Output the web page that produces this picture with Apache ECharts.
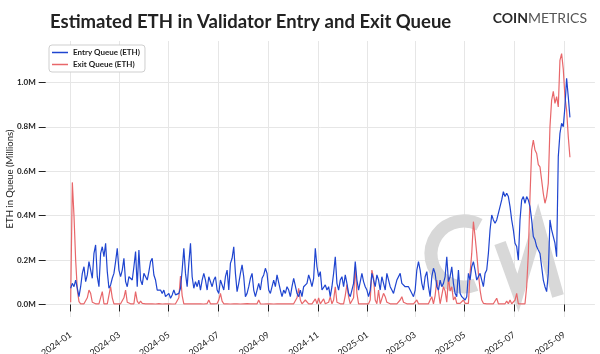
<!DOCTYPE html>
<html>
<head>
<meta charset="utf-8">
<script src="https://cdn.jsdelivr.net/npm/echarts@6/dist/echarts.min.js"></script>
<style>
  html, body { margin: 0; padding: 0; background: #fff; }
  #chart { width: 600px; height: 354px; }
</style>
</head>
<body>
<div id="chart"></div>
<script>
// values in millions of ETH, sampled about every 2 days from 2024-01-01 to 2025-09-08
const startDate = '2024-01-01';
const endDate = '2025-09-08';

const entryQueue = [
  0.073,0.095,0.080,0.110,0.073,0.035,0.080,0.140,0.170,0.103,
  0.133,0.193,0.193,0.118,0.230,0.268,0.125,0.080,0.230,0.260,
  0.215,0.276,0.148,0.073,0.088,0.118,0.140,0.193,0.253,0.155,
  0.125,0.155,0.208,0.103,0.080,0.125,0.133,0.110,0.170,0.238,
  0.080,0.245,0.110,0.088,0.140,0.148,0.110,0.148,0.193,0.208,
  0.133,0.110,0.065,0.073,0.065,0.050,0.065,0.035,0.028,0.050,
  0.028,0.043,0.065,0.043,0.035,0.050,0.073,0.155,0.253,0.140,
  0.080,0.185,0.276,0.125,0.073,
  0.103,0.080,0.110,0.065,0.110,0.140,0.110,0.065,0.125,0.133,
  0.080,0.110,0.125,0.065,0.050,0.110,0.118,0.065,0.125,0.155,
  0.065,0.185,0.208,0.260,0.140,0.058,0.095,0.140,0.178,0.125,
  0.035,0.050,0.080,0.118,0.140,0.065,0.035,0.065,0.095,0.065,
  0.118,0.133,0.163,0.140,0.065,0.050,0.080,0.110,0.080,0.133,
  0.125,0.065,0.035,0.065,0.050,0.080,0.065,0.035,0.080,0.118,
  0.110,0.050,0.035,0.065,0.035,0.080,0.080,0.095,0.133,0.110,
  0.080,0.118,0.253,0.170,0.125,0.148,0.065,
  0.065,0.088,0.065,0.080,0.035,0.080,0.140,0.215,0.095,0.065,
  0.110,0.125,0.080,0.133,0.095,0.050,0.035,0.065,0.095,0.193,
  0.110,0.065,0.065,0.140,0.103,0.080,0.065,0.035,0.065,0.140,
  0.148,0.080,0.133,0.110,0.065,0.125,0.095,0.065,0.140,0.148,
  0.080,0.065,0.050,0.080,0.110,0.103,0.140,0.095,0.088,0.080,
  0.073,0.080,0.065,0.058,0.035,0.065,0.155,0.193,0.155,0.095,
  0.065,0.125,0.148,0.080,0.035,0.125,0.163,0.140,0.080,0.065,
  0.110,0.080,0.095,0.125,0.215,0.103,0.125,0.170,0.095,
  0.050,0.035,0.155,0.050,0.035,0.043,0.020,0.035,0.140,0.110,
  0.170,0.193,0.155,0.110,0.110,0.140,0.110,0.080,0.140,0.155,
  0.230,0.336,0.403,0.381,0.366,0.381,0.373,0.441,0.471,0.508,
  0.486,0.501,0.486,0.441,0.381,0.336,0.276,0.261,0.200,0.381,
  0.471,0.486,0.456,0.486,0.471,0.441,0.381,0.306,0.291,0.261,
  0.245,0.230,0.170,0.110,0.080,0.058,0.140,0.381,0.336,0.306,
  0.276,0.215,0.666,0.771,0.816,0.801,0.891,1.019,0.936,0.843
];

const exitQueue = [
  0.010,0.550,0.400,0.200,0.065,0.013,0.003,0.003,0.003,0.010,
  0.030,0.065,0.050,0.010,0.003,0.003,0.003,0.003,0.003,0.058,
  0.003,0.003,0.003,0.010,0.080,0.030,0.003,0.003,0.003,0.003,
  0.003,0.010,0.030,0.065,0.010,0.003,0.003,0.003,0.003,0.058,
  0.015,0.003,0.015,0.005,0.012,0.003,0.004,0.003,0.002,0.003,
  0.003,0.002,0.003,0.004,0.003,0.002,0.003,0.003,0.002,0.003,
  0.003,0.002,0.004,0.003,0.003,0.030,0.128,0.040,0.003,0.003,
  0.003,0.002,0.003,0.004,0.003,
  0.003,0.003,0.004,0.003,0.003,0.002,0.003,0.004,0.020,0.003,
  0.003,0.003,0.003,0.004,0.020,0.050,0.015,0.003,0.003,0.003,
  0.003,0.002,0.003,0.003,0.004,0.003,0.003,0.002,0.003,0.003,
  0.003,0.004,0.003,0.003,0.002,0.003,0.003,0.003,0.020,0.003,
  0.003,0.002,0.003,0.003,0.004,0.003,0.003,0.002,0.003,0.003,
  0.003,0.003,0.004,0.003,0.002,0.003,0.003,0.003,0.004,0.003,
  0.003,0.030,0.073,0.020,0.003,0.003,0.020,0.015,0.003,0.003,
  0.003,0.003,0.025,0.003,0.030,0.003,0.010,
  0.025,0.003,0.003,0.010,0.035,0.003,0.020,0.080,0.010,0.003,
  0.003,0.003,0.003,0.040,0.090,0.035,0.003,0.003,0.030,0.170,
  0.050,0.003,0.003,0.003,0.003,0.003,0.003,0.003,0.020,0.155,
  0.120,0.020,0.003,0.065,0.003,0.003,0.050,0.035,0.010,0.003,
  0.003,0.003,0.003,0.003,0.003,0.003,0.020,0.035,0.010,0.003,
  0.003,0.003,0.003,0.003,0.003,0.003,0.020,0.003,0.003,0.003,
  0.003,0.003,0.003,0.003,0.020,0.035,0.003,0.040,0.110,0.060,
  0.003,0.010,0.080,0.060,0.010,0.125,0.060,0.080,0.020,
  0.035,0.005,0.005,0.005,0.013,0.020,0.005,0.005,0.005,0.140,
  0.230,0.373,0.306,0.230,0.140,0.065,0.020,0.005,0.003,0.003,
  0.003,0.003,0.003,0.003,0.003,0.028,0.003,0.003,0.003,0.003,
  0.003,0.015,0.003,0.020,0.003,0.003,0.020,0.050,0.003,0.003,
  0.003,0.003,0.003,0.080,0.230,0.486,0.696,0.740,0.696,0.680,
  0.630,0.620,0.560,0.500,0.456,0.486,0.546,0.800,0.920,0.960,
  0.906,0.936,0.890,1.100,1.130,1.060,0.936,0.876,0.756,0.663
];

const xTickLabels = ['2024-01', '2024-03', '2024-05', '2024-07', '2024-09', '2024-11',
  '2025-01', '2025-03', '2025-05', '2025-07', '2025-09'];
const yTickValues = [0, 0.2, 0.4, 0.6, 0.8, 1.0];

const t0 = Date.parse(startDate + 'T00:00:00Z');
const t1 = Date.parse(endDate + 'T00:00:00Z');
const step = (t1 - t0) / (entryQueue.length - 1);
const dates = entryQueue.map((_, i) => t0 + i * step);
const pad = (t1 - t0) * 0.05;
const xTicks = xTickLabels.map(s => Date.parse(s + '-01T00:00:00Z'));

function fmtMonth(v) {
  const d = new Date(v);
  return d.getUTCFullYear() + '-' + String(d.getUTCMonth() + 1).padStart(2, '0');
}

const chart = echarts.init(document.getElementById('chart'));
const font = 'Lato, "Open Sans", sans-serif';
chart.setOption({
  animation: false,
  backgroundColor: '#fff',
  textStyle: { fontFamily: font },
  title: [{
    text: 'Estimated ETH in Validator Entry and Exit Queue',
    left: 45,
    top: 8,
    textStyle: { fontSize: 18.5, fontWeight: 'bold', color: '#222', fontFamily: font }
  }, {
    text: '{a|COIN}{b|METRICS}',
    right: 8,
    top: 6,
    textStyle: {
      rich: {
        a: { fontSize: 14, fontWeight: 'bold', color: '#2a2a2a', fontFamily: font },
        b: { fontSize: 14, fontWeight: 'normal', color: '#555', fontFamily: font }
      }
    }
  }],
  legend: {
    orient: 'vertical',
    left: 49,
    top: 45,
    padding: [3, 5, 3, 3],
    icon: 'rect',
    itemWidth: 16,
    itemHeight: 1.5,
    itemGap: 3,
    borderColor: '#cfcfcf',
    borderWidth: 1,
    borderRadius: 3,
    backgroundColor: '#fff',
    textStyle: { fontSize: 8, fontWeight: 'bold', color: '#222', fontFamily: font, lineHeight: 9 }
  },
  grid: { left: 45.7, right: 5.1, top: 41, bottom: 37, outerBoundsMode: 'none' },
  graphic: [{
    type: 'arc',
    z: 1,
    silent: true,
    shape: { cx: 464, cy: 254, r: 33, startAngle: 1.2, endAngle: 5.2, clockwise: true },
    style: { stroke: '#d8d8d8', lineWidth: 13, fill: null }
  }, {
    type: 'polyline',
    z: 1,
    silent: true,
    shape: { points: [[500, 243], [518, 293], [538, 225], [558, 296]] },
    style: { stroke: '#d8d8d8', lineWidth: 12, fill: null, lineJoin: 'miter' }
  }],
  xAxis: {
    type: 'value',
    min: t0 - pad,
    max: t1 + pad,
    axisLine: { show: false },
    axisTick: { show: true, length: 7, customValues: xTicks, lineStyle: { color: '#222', width: 1 } },
    axisLabel: {
      customValues: xTicks,
      rotate: 35,
      fontSize: 9,
      color: '#222',
      margin: 17,
      formatter: fmtMonth
    },
    splitLine: { show: true, lineStyle: { color: '#e6e6e6', width: 1 } }
  },
  yAxis: {
    type: 'value',
    min: -0.0565,
    max: 1.187,
    name: 'ETH in Queue (Millions)',
    nameLocation: 'middle',
    nameGap: 31,
    nameMoveOverlap: false,
    nameTextStyle: { fontSize: 9.5, color: '#222', fontFamily: font },
    axisLine: { show: false },
    axisTick: { show: true, length: 7, customValues: yTickValues, lineStyle: { color: '#222', width: 1 } },
    axisLabel: {
      customValues: yTickValues,
      fontSize: 8,
      fontWeight: 'bold',
      color: '#222',
      margin: 10,
      formatter: v => v.toFixed(1) + 'M'
    },
    splitLine: { show: true, lineStyle: { color: '#e6e6e6', width: 1 } }
  },
  series: [{
    name: 'Entry Queue (ETH)',
    type: 'line',
    z: 4,
    symbol: 'none',
    lineStyle: { color: '#1f45d0', width: 1.2 },
    itemStyle: { color: '#1f45d0' },
    data: dates.map((t, i) => [t, entryQueue[i]])
  }, {
    name: 'Exit Queue (ETH)',
    type: 'line',
    z: 3,
    symbol: 'none',
    lineStyle: { color: '#e8676a', width: 1.2 },
    itemStyle: { color: '#e8676a' },
    data: dates.map((t, i) => [t, exitQueue[i]])
  }]
});
</script>
</body>
</html>
